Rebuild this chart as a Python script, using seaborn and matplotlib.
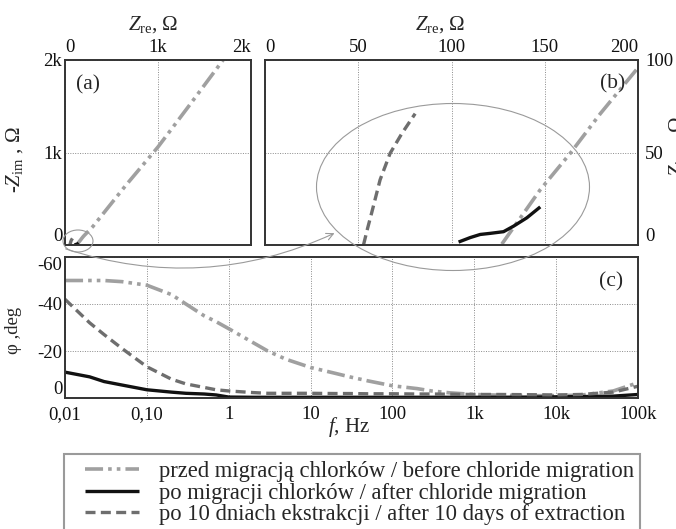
import matplotlib
matplotlib.use("Agg")
import matplotlib.pyplot as plt
import seaborn as sns
from matplotlib.patches import Ellipse, Rectangle, FancyArrowPatch
from matplotlib.ticker import NullLocator

# ---------------- data ----------------
series_labels = [
    "przed migracją chlorków / before chloride migration",
    "po migracji chlorków / after chloride migration",
    "po 10 dniach ekstrakcji / after 10 days of extraction",
]

# Nyquist data (Z_re, -Z_im) in ohm
before_re = [127, 147.6, 163.7, 179.8, 199.5, 300, 650, 1000, 1330, 1700]
before_im = [0.5, 29.9, 49.6, 71.0, 95.2, 200, 640, 1060, 1500, 2000]
aftermig_re = [103.8, 110, 115.4, 120.8, 127.9, 133.3, 140.4, 147.6]
aftermig_im = [1.6, 4.0, 5.7, 6.3, 7.2, 10.2, 14.7, 20.6]
extr_re = [52.8, 55, 57.2, 61.7, 67.1, 73.4, 80.5]
extr_im = [0, 9, 17.4, 35.2, 49.6, 60.3, 71.0]

# Bode phase data
freq = [0.01, 0.02, 0.03, 0.05, 0.1, 0.2, 0.3, 0.5, 0.7, 1, 2, 3, 5, 10, 20, 30,
        50, 100, 200, 300, 500, 1000, 2000, 5000, 10000, 20000, 50000, 100000]
phi_before = [-50, -50, -50, -49.5, -48, -44, -40, -35, -32.5, -29.5, -23.5, -20,
              -16.5, -13, -10.5, -9, -7.3, -5.2, -4, -3, -2.2, -1.5, -1.2, -1, -1,
              -1.2, -3, -6.5]
phi_aftermig = [-11, -9, -7, -5.5, -3.5, -2.5, -2, -1.7, -1.3, -0.4, -0.3, -0.3, -0.3,
                -0.3, -0.3, -0.3, -0.3, -0.3, -0.3, -0.3, -0.3, -0.3, -0.3, -0.4,
                -0.5, -0.6, -0.8, -1.5]
phi_extr = [-42, -32, -27, -21, -13.3, -8, -6, -4.5, -3.5, -3, -2.3, -2, -2, -2, -1.9,
            -1.9, -1.8, -1.8, -1.7, -1.7, -1.6, -1.5, -1.5, -1.4, -1.3, -1.5, -2.5, -5]

a_ticks = [0, 1000, 2000]
a_ticklabels = ["0", "1k", "2k"]
b_xticks = [0, 50, 100, 150, 200]
b_yticks = [0, 50, 100]
c_xticks = [0.01, 0.1, 1, 10, 100, 1000, 10000, 100000]
c_xticklabels = ["0,01", "0,10", "1", "10", "100", "1k", "10k", "100k"]
c_yticks = [-60, -40, -20, 0]
c_yticklabels = ["-60", "-40", "-20", "0"]

# ---------------- style ----------------
sns.set_style("white")
plt.rcParams["font.family"] = ["Liberation Serif", "DejaVu Serif"]
plt.rcParams["axes.unicode_minus"] = False
plt.rcParams["mathtext.fontset"] = "custom"
plt.rcParams["mathtext.rm"] = "Liberation Serif"
plt.rcParams["mathtext.it"] = "Liberation Serif:italic"

W, H = 676, 529
FS = 13.5
FS_LAB = 15
FS_LEG = 16.3
COL = ["#a0a0a0", "#111111", "#6e6e6e"]
LW = [2.6, 2.4, 2.4]
DASH = [(5, 1.4, 1, 1.4, 1, 1.4), None, (3, 1.6)]


def fx(p):
    return p / W


def fy(p):
    return 1 - p / H


def ax_rect(l, t, r, b):
    return [fx(l), fy(b), (r - l) / W, (b - t) / H]


def draw(ax, x, y, i, label=None):
    sns.lineplot(x=x, y=y, ax=ax, sort=False, estimator=None, color=COL[i],
                 lw=LW[i], label=label, legend=False)
    ln = ax.lines[-1]
    if DASH[i] is not None:
        ln.set_dashes(DASH[i])
    ln.set_solid_capstyle("butt")
    ln.set_dash_capstyle("butt")
    return ln


def style(ax):
    for s in ax.spines.values():
        s.set_color("#333333")
        s.set_linewidth(1.4)
        s.set_visible(True)
    ax.grid(True, ls=(0, (1, 1.5)), color="#8a8a8a", lw=0.7)
    ax.tick_params(length=0, labelsize=FS, colors="#111111")
    ax.set_xlabel("")
    ax.set_ylabel("")


fig = plt.figure(figsize=(W / 100, H / 100), dpi=100)

# ---- panel (a)
ax_a = fig.add_axes(ax_rect(65, 60, 251, 245))
draw(ax_a, before_re, before_im, 0)
draw(ax_a, aftermig_re, aftermig_im, 1)
draw(ax_a, extr_re, extr_im, 2)
ax_a.set_xlim(0, 2000)
ax_a.set_ylim(0, 2000)
ax_a.xaxis.tick_top()
ax_a.set_xticks(a_ticks, a_ticklabels)
ax_a.set_yticks(a_ticks, a_ticklabels)
style(ax_a)
ax_a.tick_params(axis="x", pad=3)
ax_a.tick_params(axis="y", pad=2)
ax_a.get_xticklabels()[0].set_ha("left")
ax_a.get_xticklabels()[-1].set_ha("right")
ax_a.get_yticklabels()[0].set_va("bottom")

# ---- panel (b)
ax_b = fig.add_axes(ax_rect(265, 60, 638, 245))
draw(ax_b, before_re, before_im, 0)
draw(ax_b, aftermig_re, aftermig_im, 1)
draw(ax_b, extr_re, extr_im, 2)
ax_b.set_xlim(0, 200)
ax_b.set_ylim(0, 100)
ax_b.xaxis.tick_top()
ax_b.yaxis.tick_right()
ax_b.set_xticks(b_xticks, [str(v) for v in b_xticks])
ax_b.set_yticks(b_yticks, [str(v) for v in b_yticks])
style(ax_b)
ax_b.tick_params(axis="x", pad=3)
ax_b.tick_params(axis="y", pad=5)
ax_b.get_xticklabels()[0].set_ha("left")
ax_b.get_xticklabels()[-1].set_ha("right")
ax_b.get_yticklabels()[0].set_va("bottom")

# ---- panel (c)
ax_c = fig.add_axes(ax_rect(65, 257, 638, 398))
ax_c.set_xscale("log")
handles = [
    draw(ax_c, freq, phi_before, 0, series_labels[0]),
    draw(ax_c, freq, phi_aftermig, 1, series_labels[1]),
    draw(ax_c, freq, phi_extr, 2, series_labels[2]),
]
ax_c.set_xlim(0.01, 100000)
ax_c.set_ylim(0, -60)
ax_c.set_xticks(c_xticks, c_xticklabels)
ax_c.xaxis.set_minor_locator(NullLocator())
ax_c.set_yticks(c_yticks, c_yticklabels)
style(ax_c)
ax_c.tick_params(axis="x", pad=6)
ax_c.tick_params(axis="y", pad=2)
ax_c.get_yticklabels()[0].set_va("top")
ax_c.get_yticklabels()[-1].set_va("bottom")

# ---- texts
fig.text(fx(153), fy(25), r"$Z_{\mathrm{re}}$, Ω", ha="center", va="center", fontsize=FS_LAB)
fig.text(fx(440), fy(25), r"$Z_{\mathrm{re}}$, Ω", ha="center", va="center", fontsize=FS_LAB)
fig.text(fx(15), fy(160), r"-$Z_{\mathrm{im}}$ , Ω", ha="center", va="center",
         rotation=90, fontsize=FS_LAB)
fig.text(fx(667), fy(150), r"-$Z_{\mathrm{im}}$ , Ω", ha="left", va="center",
         rotation=90, fontsize=FS_LAB)
fig.text(fx(14), fy(330), "φ ,deg", ha="center", va="center", rotation=90, fontsize=FS)
fig.text(fx(349), fy(427), r"$f$, Hz", ha="center", va="center", fontsize=FS_LAB)
fig.text(fx(88), fy(85), "(a)", ha="center", va="center", fontsize=15.5)
fig.text(fx(613), fy(84), "(b)", ha="center", va="center", fontsize=15.5)
fig.text(fx(611), fy(282), "(c)", ha="center", va="center", fontsize=15.5)

# ---- zoom ellipses & arrow
gray = "#9a9a9a"
fig.add_artist(Ellipse((fx(78), fy(241)), 30 / W, 22 / H, transform=fig.transFigure,
                       fill=False, ec=gray, lw=0.8, zorder=5))
fig.add_artist(Ellipse((fx(453), fy(187)), 273 / W, 167 / H, transform=fig.transFigure,
                       fill=False, ec=gray, lw=0.8, zorder=5))
fig.add_artist(FancyArrowPatch((fx(63), fy(248)), (fx(337), fy(232)),
                               transform=fig.transFigure,
                               connectionstyle="arc3,rad=0.2", arrowstyle="->,head_length=5,head_width=2.5",
                               color=gray, lw=0.8, zorder=5))

# ---- legend
fig.add_artist(Rectangle((fx(64), fy(545)), (640 - 64) / W, (545 - 454) / H,
                         transform=fig.transFigure, fill=False, ec="#9a9a9a", lw=1.5))
fig.legend(handles, series_labels, loc="upper left", bbox_to_anchor=(fx(85), fy(461)),
           frameon=False, fontsize=FS_LEG, handlelength=2.4, handletextpad=0.85,
           labelspacing=0.03, borderaxespad=0, borderpad=0)

fig.savefig("out.png", dpi=100)
